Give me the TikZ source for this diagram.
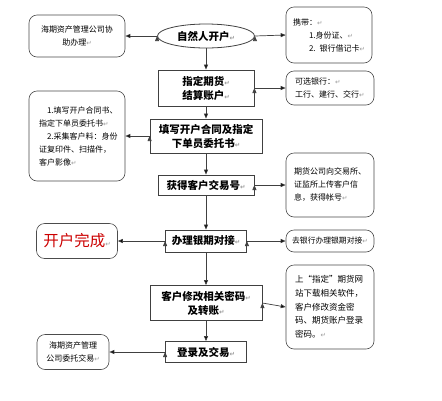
\documentclass[tikz,border=0pt]{standalone}
\usepackage{fontspec}
\setmainfont{Noto Sans CJK SC}
\newfontfamily\symfont{DejaVu Sans}
\usetikzlibrary{shapes.geometric,arrows.meta}
\newcommand{\rt}{{\symfont\color{black!40}\fontsize{6.5}{6.5}\selectfont ↵}}

\begin{document}
\begin{tikzpicture}[x=1pt,y=-1pt,
  main box/.style={rectangle,draw=black!75,line width=0.8pt,align=center,inner sep=2pt,font=\bfseries\fontsize{10.5}{14}\selectfont},
  note box/.style={rectangle,draw=black!70,line width=0.6pt,rounded corners=8pt,align=left,inner sep=2pt,font=\fontsize{8}{13}\selectfont},
  flow/.style={-{Triangle[length=5pt,width=4pt]},draw=black!75,line width=0.7pt}]

  \path[fill=white] (0,0) rectangle (442,400);
  \useasboundingbox (0,0) rectangle (442,400);

  % main column
  \node[main box,ellipse,minimum width=97,minimum height=24] (start) at (206,36) {自然人开户\rt};
  \node[main box,minimum width=96,minimum height=36] (acct) at (206,88) {指定期货\rt\\结算账户\rt};
  \node[main box,minimum width=112,minimum height=34] (contract) at (206,136) {填写开户合同及指定\\下单员委托书\rt};
  \node[main box,minimum width=96,minimum height=20] (code) at (206,185) {获得客户交易号\rt};
  \node[main box,minimum width=81,minimum height=22] (bind) at (206,241) {办理银期对接\rt};
  \node[main box,minimum width=112,minimum height=35] (pwd) at (206,303) {客户修改相关密码\rt\\及转账\rt};
  \node[main box,minimum width=81,minimum height=21] (trade) at (206,352) {登录及交易\rt};

  % notes on the left
  \node[note box,align=center,minimum width=96,minimum height=42] (help) at (77,36) {海期资产管理公司协\\助办理\rt};
  \node[note box,minimum width=96,minimum height=90,text width=76] (forms) at (77,136) {\hspace*{1em}1.填写开户合同书、\\指定下单员委托书\rt\\\hspace*{1em}2.采集客户料：身份\\证复印件、扫描件，\\客户影像\rt\\[3pt]};
  \node[note box,align=center,minimum width=81,minimum height=35,text=red!80!black,font=\fontsize{15.5}{18}\selectfont] (done) at (77,241) {开户完成\rt};
  \node[note box,align=center,minimum width=72,minimum height=35] (entrust) at (73,352) {海期资产管理\\公司委托交易\rt};

  % notes on the right
  \node[note box,minimum width=86,minimum height=56,text width=72] (carry) at (329,35) {携带：\rt\\\hspace*{2em}\mbox{1.身份证、\rt}\\\hspace*{2em}\mbox{2. 银行借记卡\rt}};
  \node[note box,minimum width=88,minimum height=34,text width=70] (bank) at (330,88) {可选银行：\rt\\工行、建行、交行\rt};
  \node[note box,minimum width=88,minimum height=64,text width=72] (upload) at (330,185) {期货公司向交易所、\\证监所上传客户信\\息，获得帐号\rt\\[6pt]};
  \node[note box,minimum width=88,minimum height=22,font=\fontsize{7.8}{10}\selectfont] (gobank) at (330,241) {去银行办理银期对接\rt};
  \node[note box,minimum width=88,minimum height=84,text width=70,font=\fontsize{8.5}{13.7}\selectfont] (soft) at (330,307) {上“指定”期货网\\站下载相关软件，\\客户修改资金密\\码、期货账户登录\\密码。\rt\\[2pt]};

  \path (start) [flow] edge (acct);
  \path (acct) [flow] edge (contract);
  \path (contract) [flow] edge (code);
  \path (code) [flow] edge (bind);
  \path (bind) [flow] edge (pwd);
  \path (pwd) [flow] edge (trade);
  \path (start.west) [flow] edge (help.east);
  \path (start.east) [flow] edge (carry.west);
  \path (acct.east) [flow] edge (bank.west);
  \path (contract.west) [flow] edge (forms.east);
  \path (code.east) [flow] edge (upload.west);
  \path (bind.west) [flow] edge (done.east);
  \path (bind.east) [flow] edge (gobank.west);
  \path (pwd.east) [flow] edge (soft.west);
  \path (trade.west) [flow] edge (entrust.east);
\end{tikzpicture}
\end{document}
